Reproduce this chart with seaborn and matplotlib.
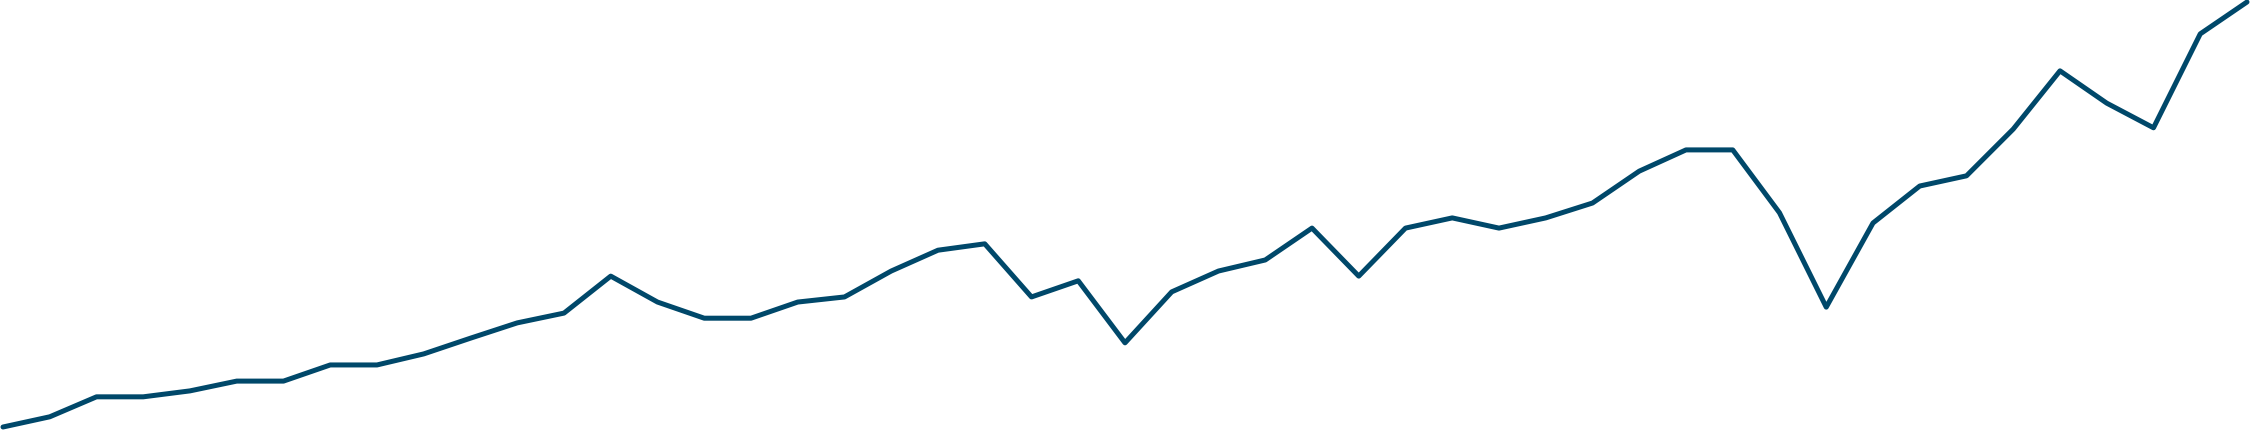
import matplotlib
matplotlib.use("Agg")
import matplotlib.pyplot as plt
import seaborn as sns
import pandas as pd

# Data (arbitrary index units, 0-100)
periods = list(range(1, 50))
values = [
    0.0, 2.4, 7.1, 7.1, 8.5, 10.8, 10.8, 14.6, 14.6, 17.2,
    20.9, 24.5, 26.8, 35.5, 29.4, 25.6, 25.6, 29.4, 30.6, 36.7,
    41.6, 43.1, 30.6, 34.4, 19.8, 31.8, 36.7, 39.3, 46.8, 35.5,
    46.8, 49.2, 46.8, 49.2, 52.7, 60.2, 65.2, 65.2, 50.4, 28.2,
    48.0, 56.7, 59.1, 70.1, 83.8, 76.2, 70.4, 92.5, 100.0,
]

df = pd.DataFrame({"period": periods, "value": values})

sns.set_theme(style="white")
fig = plt.figure(figsize=(22.5, 4.32), dpi=100)
ax = fig.add_axes([0, 0, 1, 1])

sns.lineplot(data=df, x="period", y="value", ax=ax, color="#00486a",
             linewidth=3.6, solid_joinstyle="round", solid_capstyle="round",
             legend=False)

step = 46.75
ax.set_xlim(periods[0] - 3 / step, periods[-1] + 3 / step)
ax.set_ylim((427 - 432) / 4.25, 427 / 4.25)
ax.set_axis_off()
fig.patch.set_facecolor("white")

fig.savefig("out.png", dpi=100, facecolor="white")
